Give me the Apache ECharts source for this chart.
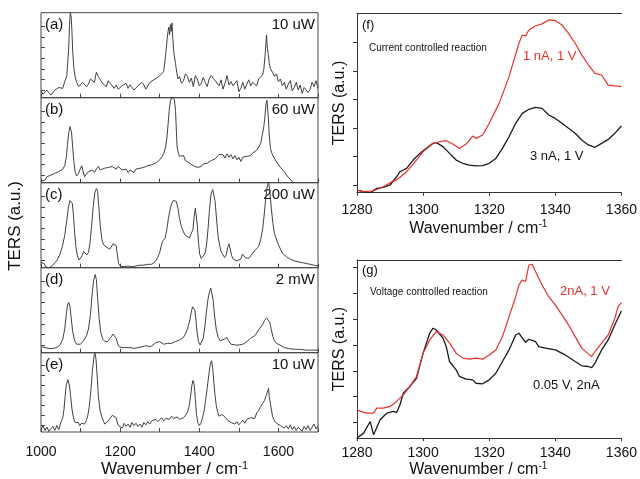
<!DOCTYPE html>
<html>
<head>
<meta charset="utf-8">
<script src="https://cdn.jsdelivr.net/npm/echarts@6/dist/echarts.min.js"></script>
<style>
  html, body { margin: 0; padding: 0; background: #fff; }
  #chart { width: 640px; height: 479px; }
</style>
</head>
<body>
<div id="chart"></div>
<script>
// TERS spectra, left stack: [wavenumber, intensity (a.u., 0-100 per panel)]
var specA = [[1000,8],[1005,4],[1010,4],[1015,9],[1020,10],[1025,3],[1030,4],[1035,9],[1040,8],[1045,12],[1050,14],[1055,11],[1060,19],[1065,25],[1068,45],[1070,58],[1072,85],[1074,100],[1076,96],[1078,80],[1080,55],[1083,35],[1086,25],[1090,18],[1095,13],[1100,14],[1105,18],[1110,19],[1115,13],[1120,16],[1125,22],[1130,23],[1135,18],[1140,30],[1145,25],[1150,21],[1155,17],[1160,19],[1165,13],[1170,20],[1175,17],[1180,15],[1185,11],[1190,15],[1195,10],[1200,8],[1205,14],[1210,12],[1215,17],[1220,11],[1225,15],[1230,16],[1235,9],[1240,7],[1245,14],[1250,12],[1255,18],[1260,15],[1265,10],[1270,12],[1275,18],[1280,16],[1285,21],[1290,19],[1295,24],[1300,25],[1305,28],[1310,31],[1313,42],[1316,55],[1319,70],[1321,78],[1323,83],[1325,74],[1327,86],[1329,78],[1331,88],[1333,70],[1336,52],[1340,40],[1343,30],[1346,22],[1350,25],[1355,17],[1360,20],[1365,28],[1370,25],[1375,18],[1380,23],[1385,13],[1390,26],[1395,22],[1400,14],[1405,17],[1410,24],[1415,18],[1420,13],[1425,22],[1430,26],[1435,23],[1440,20],[1445,19],[1450,14],[1455,21],[1460,10],[1465,17],[1470,26],[1475,15],[1480,19],[1485,14],[1490,12],[1495,20],[1500,7],[1505,11],[1510,18],[1515,10],[1520,16],[1525,21],[1530,14],[1535,18],[1540,19],[1545,14],[1550,22],[1555,20],[1560,27],[1563,33],[1566,48],[1568,62],[1570,74],[1572,58],[1574,52],[1577,40],[1580,34],[1585,30],[1590,25],[1595,28],[1600,19],[1605,22],[1610,14],[1615,18],[1620,10],[1625,16],[1630,20],[1635,8],[1640,12],[1645,18],[1650,9],[1655,15],[1660,5],[1665,12],[1670,14],[1675,6],[1680,10],[1685,18],[1690,13],[1695,20],[1700,11]];

var specB = [[1000,2],[1005,4],[1010,3],[1015,7],[1020,6],[1025,9],[1030,8],[1035,11],[1040,10],[1045,13],[1050,12],[1055,16],[1060,20],[1064,30],[1067,45],[1070,58],[1073,66],[1075,67],[1077,60],[1080,42],[1083,25],[1086,13],[1090,8],[1095,11],[1100,17],[1103,20],[1106,14],[1110,7],[1115,10],[1120,13],[1125,11],[1130,15],[1135,12],[1140,16],[1145,19],[1150,15],[1155,14],[1160,17],[1165,15],[1170,18],[1175,16],[1180,19],[1185,18],[1190,16],[1195,19],[1200,17],[1205,15],[1210,13],[1215,16],[1220,12],[1225,15],[1230,14],[1235,12],[1240,16],[1245,14],[1250,17],[1255,15],[1260,18],[1265,16],[1270,20],[1275,19],[1280,21],[1285,20],[1290,23],[1295,24],[1300,27],[1305,30],[1310,34],[1315,42],[1318,52],[1321,68],[1324,85],[1327,96],[1330,100],[1334,100],[1337,98],[1340,85],[1342,62],[1344,42],[1347,35],[1350,31],[1355,29],[1360,32],[1365,26],[1370,28],[1375,23],[1380,24],[1385,20],[1390,21],[1395,18],[1400,20],[1405,19],[1410,22],[1415,21],[1420,23],[1425,22],[1430,26],[1435,25],[1440,28],[1445,26],[1450,33],[1455,31],[1460,33],[1465,29],[1470,34],[1475,30],[1480,33],[1485,28],[1490,32],[1495,27],[1500,30],[1505,25],[1510,30],[1515,28],[1520,31],[1525,33],[1530,32],[1535,35],[1540,36],[1545,38],[1550,40],[1555,46],[1560,58],[1563,66],[1566,78],[1569,94],[1571,97],[1574,80],[1577,55],[1580,40],[1584,34],[1588,30],[1592,27],[1596,24],[1600,22],[1605,18],[1610,16],[1615,13],[1620,9],[1625,7],[1630,4],[1635,1],[1640,-3],[1645,-8]];

var specC = [[1000,6],[1004,8],[1008,5],[1012,1],[1018,0],[1025,1],[1030,3],[1036,6],[1042,10],[1048,16],[1054,25],[1060,38],[1065,55],[1069,70],[1073,79],[1076,80],[1079,76],[1082,62],[1085,42],[1088,25],[1092,14],[1096,9],[1100,9],[1104,14],[1108,19],[1112,17],[1116,15],[1120,18],[1124,30],[1128,50],[1132,72],[1136,88],[1140,93],[1143,90],[1146,72],[1150,48],[1154,33],[1158,27],[1162,25],[1166,24],[1170,23],[1174,22],[1178,24],[1182,28],[1186,29],[1190,26],[1193,15],[1196,5],[1200,2],[1210,1],[1220,2],[1230,1],[1240,2],[1250,3],[1260,3],[1270,4],[1280,4],[1285,5],[1290,8],[1295,12],[1300,18],[1304,26],[1307,31],[1310,30],[1314,35],[1318,45],[1322,58],[1326,68],[1330,75],[1334,79],[1338,80],[1342,78],[1346,70],[1350,58],[1355,48],[1360,42],[1365,38],[1370,36],[1375,35],[1380,37],[1384,45],[1387,60],[1390,70],[1392,68],[1395,50],[1398,30],[1401,16],[1405,11],[1409,12],[1414,16],[1418,25],[1422,45],[1426,70],[1430,87],[1434,92],[1437,90],[1440,78],[1444,55],[1448,35],[1452,25],[1456,18],[1460,15],[1464,12],[1468,15],[1472,24],[1475,28],[1478,22],[1482,14],[1486,10],[1490,9],[1495,8],[1500,8],[1505,10],[1509,16],[1512,18],[1516,12],[1520,11],[1525,11],[1530,14],[1535,17],[1540,20],[1545,21],[1550,25],[1555,33],[1560,45],[1564,62],[1568,82],[1572,96],[1575,100],[1578,92],[1582,70],[1586,52],[1590,40],[1596,32],[1600,27],[1610,17],[1620,13],[1630,10],[1640,8],[1650,7],[1660,6],[1670,5],[1680,4],[1690,3],[1700,2]];

var specD = [[1000,7],[1010,6],[1020,5],[1030,5],[1040,6],[1048,9],[1055,16],[1060,28],[1064,45],[1067,56],[1070,59],[1073,55],[1076,42],[1080,25],[1085,14],[1090,10],[1095,9],[1100,10],[1105,13],[1110,16],[1115,20],[1120,28],[1125,45],[1129,68],[1133,85],[1137,92],[1140,86],[1143,65],[1147,40],[1151,24],[1156,16],[1162,13],[1168,13],[1173,15],[1178,19],[1182,22],[1186,22],[1190,17],[1194,10],[1198,7],[1205,6],[1215,6],[1225,6],[1235,5],[1245,6],[1255,7],[1262,8],[1268,8],[1274,7],[1280,8],[1285,10],[1290,12],[1295,14],[1300,13],[1305,11],[1310,10],[1315,10],[1320,11],[1325,12],[1330,11],[1335,11],[1340,13],[1345,15],[1350,15],[1355,17],[1360,18],[1365,22],[1370,28],[1375,36],[1379,46],[1383,54],[1386,56],[1389,50],[1392,36],[1395,22],[1398,13],[1402,9],[1406,11],[1410,17],[1414,30],[1418,48],[1422,63],[1426,72],[1429,76],[1432,74],[1435,62],[1439,42],[1443,27],[1448,18],[1453,14],[1458,14],[1463,16],[1467,18],[1470,18],[1474,14],[1480,10],[1485,9],[1492,9],[1500,9],[1505,11],[1510,10],[1515,12],[1520,13],[1525,15],[1530,17],[1535,18],[1540,20],[1545,23],[1550,27],[1555,30],[1560,33],[1565,38],[1570,41],[1574,41],[1578,36],[1582,27],[1586,19],[1590,14],[1595,11],[1600,10],[1604,9],[1608,7],[1615,6],[1625,5],[1640,4],[1655,4],[1670,3],[1685,3],[1700,3]];

var specE = [[1000,3],[1005,8],[1010,2],[1015,6],[1020,1],[1025,4],[1030,7],[1035,2],[1040,8],[1045,3],[1050,12],[1055,18],[1058,28],[1061,45],[1064,60],[1066,63],[1068,66],[1070,64],[1072,58],[1075,45],[1078,30],[1082,18],[1086,12],[1090,10],[1094,12],[1098,8],[1102,11],[1106,13],[1110,10],[1114,14],[1118,20],[1122,32],[1126,52],[1130,78],[1134,95],[1136,100],[1139,92],[1142,70],[1145,45],[1149,28],[1153,20],[1157,15],[1161,10],[1165,9],[1170,14],[1175,16],[1180,21],[1185,23],[1190,18],[1194,10],[1198,7],[1202,9],[1206,5],[1210,11],[1215,7],[1220,10],[1225,6],[1230,12],[1235,8],[1240,11],[1245,7],[1250,10],[1255,6],[1260,12],[1265,9],[1270,13],[1275,10],[1280,14],[1285,12],[1290,16],[1295,13],[1300,15],[1305,18],[1310,14],[1315,17],[1320,19],[1325,16],[1330,20],[1335,17],[1340,15],[1345,19],[1350,16],[1355,14],[1360,18],[1365,21],[1370,25],[1374,32],[1378,45],[1381,58],[1384,65],[1387,60],[1390,42],[1393,22],[1396,12],[1400,8],[1404,11],[1408,18],[1412,26],[1416,40],[1420,55],[1424,72],[1428,86],[1431,90],[1434,80],[1437,62],[1440,45],[1443,33],[1446,26],[1450,20],[1454,18],[1457,22],[1460,24],[1463,20],[1467,18],[1471,15],[1475,17],[1480,12],[1485,14],[1490,10],[1495,13],[1500,9],[1505,12],[1510,15],[1515,11],[1520,16],[1525,14],[1530,18],[1535,20],[1540,17],[1545,24],[1550,27],[1555,32],[1560,36],[1565,40],[1569,46],[1572,50],[1575,55],[1577,44],[1580,35],[1585,20],[1590,14],[1595,11],[1600,12],[1605,8],[1610,10],[1615,5],[1620,8],[1625,4],[1630,9],[1635,3],[1640,7],[1645,2],[1650,6],[1655,4],[1660,1],[1665,7],[1670,3],[1675,8],[1680,2],[1685,6],[1690,10],[1695,4],[1700,8]];

// panel names and power labels
var stackTags = ['(a)', '(b)', '(c)', '(d)', '(e)'];
var stackPowers = ['10 uW', '60 uW', '200 uW', '2 mW', '10 uW'];

// (f) current controlled reaction
var fRed = [[1280,1.5],[1282,0.6],[1285,1.1],[1288,3.3],[1290,5.6],[1292,7.1],[1295,11.7],[1298,18.2],[1300,22.9],[1303,27.5],[1305,28.4],[1307,29.0],[1309,27.1],[1311,24.7],[1313,27.1],[1315,31.6],[1316,30.3],[1318,32.2],[1320,38.7],[1323,49.8],[1326,64.7],[1329,83.3],[1330,87.9],[1331,87.4],[1332,90.7],[1334,92.9],[1336,94.1],[1338,96.3],[1340,95.9],[1342,93.5],[1344,88.8],[1346,83.3],[1348,76.8],[1350,71.2],[1352,66.5],[1354,65.6],[1356,60.0],[1358,59.5],[1360,59.1]];
var fBlack = [[1280,1.5],[1282,0.6],[1284,0],[1286,2.4],[1288,3.0],[1290,4.3],[1292,8.9],[1293,11.7],[1295,13.6],[1297,18.2],[1299,21.9],[1301,24.7],[1303,27.5],[1304,27.9],[1306,25.7],[1308,21.9],[1310,18.2],[1312,16.4],[1314,15.4],[1316,14.9],[1318,15.1],[1320,16.4],[1322,19.1],[1324,24.7],[1326,31.2],[1328,38.7],[1330,44.2],[1332,46.5],[1334,47.6],[1336,47.0],[1338,43.3],[1340,41.4],[1342,38.7],[1344,35.9],[1346,33.1],[1348,29.4],[1350,26.6],[1352,25.3],[1354,27.5],[1356,29.7],[1358,33.1],[1360,37.2]];

// (g) voltage controlled reaction
var gRed = [[1280,15.9],[1281,15.0],[1283,14.0],[1285,14.0],[1286,16.8],[1288,16.8],[1290,17.8],[1292,20.6],[1294,24.3],[1296,29.0],[1298,34.6],[1300,47.7],[1302,55.1],[1304,59.8],[1306,57.9],[1308,53.3],[1310,47.7],[1312,44.9],[1314,44.3],[1316,44.9],[1318,44.3],[1320,46.7],[1322,49.5],[1324,57.0],[1326,68.2],[1328,79.4],[1329,86.0],[1330,88.8],[1331,87.9],[1332,97.2],[1333,97.6],[1334,93.5],[1336,86.0],[1338,79.4],[1340,74.8],[1342,69.2],[1344,63.6],[1346,57.0],[1348,50.5],[1350,47.3],[1351,45.8],[1352,48.6],[1354,53.3],[1356,57.9],[1358,67.3],[1359,73.8],[1360,76.1]];
var gBlack = [[1280,0],[1282,2.8],[1284,9.3],[1285,1.9],[1287,10.3],[1289,14.0],[1291,15.0],[1292,14.4],[1293,18.7],[1294,25.2],[1296,29.0],[1298,33.6],[1300,47.7],[1302,58.9],[1303,61.7],[1304,60.7],[1306,56.1],[1307,51.4],[1308,43.0],[1310,38.3],[1311,34.6],[1313,33.1],[1315,32.7],[1316,30.8],[1318,30.5],[1320,32.7],[1322,36.4],[1324,43.0],[1326,49.5],[1328,57.9],[1329,58.9],[1330,56.1],[1331,53.8],[1332,55.5],[1334,54.2],[1335,51.4],[1337,50.5],[1340,49.5],[1343,46.7],[1346,43.0],[1348,40.6],[1350,40.2],[1351,39.6],[1352,42.1],[1354,49.5],[1356,55.1],[1358,63.6],[1360,71.4]];

var stackTicks = [9, 21.5, 34, 46.5, 59, 71.5, 84];
var fTicks = [4.3, 20.2, 36.1, 52, 67.9, 83.8];
var gTicks = [8.8, 23.4, 37.8, 52.3, 66.9, 81.3, 95.9];

var FONT = 'Liberation Sans, Arial, sans-serif';
var chart = echarts.init(document.getElementById('chart'));

var stackData = [specA, specB, specC, specD, specE];
var grids = [], xAxes = [], yAxes = [], series = [], graphics = [];

function each(arr, fn) { for (var i = 0; i < arr.length; i++) fn(i, arr[i]); }

function supRich(size) {
  return { sup: { fontFamily: FONT, fontSize: size, color: '#111', verticalAlign: 'top', padding: [0, 0, 8, 0] } };
}

// left stacked panels
each(stackData, function(i, spec) {
  var top = 12.7 + i * 85;
  grids.push({
    left: 41, width: 277, top: top, height: 85,
    show: true, borderColor: '#444', borderWidth: 1
  });
  var last = i === stackData.length - 1;
  xAxes.push({
    type: 'value', gridIndex: i, min: 1000, max: 1700, interval: 100,
    axisLine: { show: false },
    axisTick: { show: true, inside: true, length: 4, lineStyle: { color: '#444' } },
    splitLine: { show: false },
    axisLabel: {
      show: last, margin: 13, fontFamily: FONT, fontSize: 14, color: '#111',
      formatter: function(v) { return v % 200 === 0 ? String(v) : ''; }
    },
    name: last ? 'Wavenumber / cm{sup|-1}' : '',
    nameLocation: 'middle', nameGap: 28,
    nameTextStyle: { fontFamily: FONT, fontSize: 17, color: '#111', padding: [0, 10, 0, 0], rich: supRich(11) }
  });
  yAxes.push({
    type: 'value', gridIndex: i, min: 0, max: 100,
    axisLine: { show: false },
    axisTick: { show: true, inside: true, length: 4, customValues: stackTicks, lineStyle: { color: '#444' } },
    axisLabel: { show: false },
    splitLine: { show: false }
  });
  series.push({
    type: 'line', xAxisIndex: i, yAxisIndex: i, data: spec,
    showSymbol: false, clip: true, silent: true,
    lineStyle: { color: '#404040', width: 1 }
  });
  graphics.push({
    type: 'text', left: 45, top: top + 5,
    style: { text: stackTags[i], fontFamily: FONT, fontSize: 15, fill: '#111' }
  });
  graphics.push({
    type: 'text', right: 640 - 315, top: top + 5,
    style: { text: stackPowers[i], fontFamily: FONT, fontSize: 15, fill: '#111' }
  });
});

// right panels (f) and (g)
var rightPanels = [
  { top: 13.3, height: 179.4, ticks: fTicks, red: fRed, black: fBlack, margin: 10, gap: 27 },
  { top: 260, height: 178.3, ticks: gTicks, red: gRed, black: gBlack, margin: 8, gap: 22 }
];
each(rightPanels, function(k, p) {
  var gi = 5 + k;
  grids.push({ left: 357, right: 17, top: p.top, height: p.height });
  xAxes.push({
    type: 'value', gridIndex: gi, min: 1280, max: 1360, interval: 20,
    axisLine: { show: true, lineStyle: { color: '#333', width: 1 } },
    axisTick: { show: true, length: 3, lineStyle: { color: '#333' } },
    splitLine: { show: false },
    axisLabel: {
      margin: p.margin, fontFamily: FONT, fontSize: 14, color: '#111',
      formatter: function(v) { return String(v); }
    },
    name: 'Wavenumber / cm{sup|-1}', nameLocation: 'middle', nameGap: p.gap,
    nameTextStyle: { fontFamily: FONT, fontSize: 16, color: '#111', padding: [0, 22, 0, 0], rich: supRich(10) }
  });
  yAxes.push({
    type: 'value', gridIndex: gi, min: 0, max: 100,
    axisLine: { show: true, lineStyle: { color: '#333', width: 1 } },
    axisTick: { show: true, length: 4, customValues: p.ticks, lineStyle: { color: '#333' } },
    axisLabel: { show: false },
    splitLine: { show: false },
    name: 'TERS (a.u.)', nameLocation: 'middle', nameGap: 9, nameRotate: 90,
    nameTextStyle: { fontFamily: FONT, fontSize: 16, color: '#111' }
  });
  series.push({
    type: 'line', xAxisIndex: gi, yAxisIndex: gi, data: p.black,
    showSymbol: false, silent: true, lineStyle: { color: '#1a1a1a', width: 1.3 }
  });
  series.push({
    type: 'line', xAxisIndex: gi, yAxisIndex: gi, data: p.red,
    showSymbol: false, silent: true, lineStyle: { color: '#e8302a', width: 1.2 }
  });
});
// top frame line of (f) and (g)
each(rightPanels, function(k) {
  xAxes.push({
    type: 'value', gridIndex: 5 + k, position: 'top', min: 1280, max: 1360,
    axisLine: { show: true, lineStyle: { color: '#333', width: 1 } },
    axisTick: { show: false }, axisLabel: { show: false }, splitLine: { show: false }
  });
});

// annotations
graphics.push(
  { type: 'text', x: 15, y: 226, rotation: Math.PI / 2,
    style: { text: 'TERS (a.u.)', fontFamily: FONT, fontSize: 17, fill: '#111', align: 'center', verticalAlign: 'middle' } },
  { type: 'text', left: 362, top: 19, style: { text: '(f)', fontFamily: FONT, fontSize: 13, fill: '#111' } },
  { type: 'text', left: 369, top: 43, style: { text: 'Current controlled reaction', fontFamily: FONT, fontSize: 10, fill: '#111' } },
  { type: 'text', left: 523, top: 50, style: { text: '1 nA, 1 V', fontFamily: FONT, fontSize: 13, fill: '#e8302a' } },
  { type: 'text', left: 530, top: 150, style: { text: '3 nA, 1 V', fontFamily: FONT, fontSize: 13, fill: '#111' } },
  { type: 'text', left: 362, top: 264, style: { text: '(g)', fontFamily: FONT, fontSize: 13, fill: '#111' } },
  { type: 'text', left: 370, top: 287, style: { text: 'Voltage controlled reaction', fontFamily: FONT, fontSize: 10, fill: '#111' } },
  { type: 'text', left: 560, top: 285, style: { text: '2nA, 1 V', fontFamily: FONT, fontSize: 13, fill: '#e8302a' } },
  { type: 'text', left: 533, top: 379, style: { text: '0.05 V, 2nA', fontFamily: FONT, fontSize: 13, fill: '#111' } }
);

chart.setOption({
  animation: false,
  backgroundColor: '#fff',
  grid: grids,
  xAxis: xAxes,
  yAxis: yAxes,
  series: series,
  graphic: graphics
});
</script>
</body>
</html>
